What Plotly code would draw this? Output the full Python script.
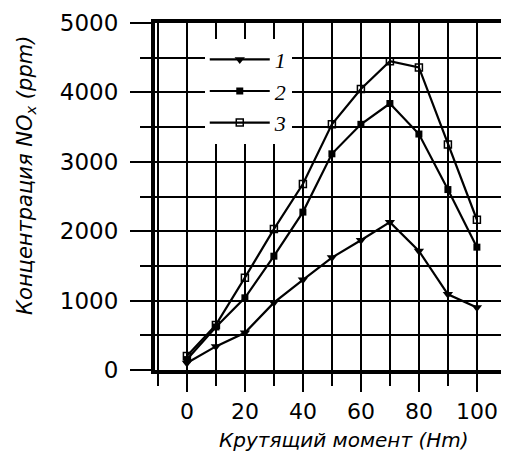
import plotly.graph_objects as go

torque = [0, 10, 20, 30, 40, 50, 60, 70, 80, 90, 100]
nox_1 = [100, 340, 535, 970, 1300, 1620, 1870, 2130, 1715, 1090, 900]
nox_2 = [150, 620, 1040, 1640, 2275, 3115, 3540, 3840, 3400, 2600, 1770]
nox_3 = [200, 650, 1330, 2030, 2680, 3540, 4050, 4450, 4360, 3250, 2165]
names = ["1", "2", "3"]
x_ticks = [0, 20, 40, 60, 80, 100]
y_ticks = [0, 1000, 2000, 3000, 4000, 5000]
x_title = "Крутящий момент (Нm)"
y_title = "Концентрация NO<sub>x</sub> (ppm)"

fig = go.Figure()
styles = [
    dict(symbol="triangle-down", size=9, color="black"),
    dict(symbol="square", size=7, color="black"),
    dict(symbol="square-open", size=7, color="black", line=dict(width=1.5, color="black")),
]
for name, vals, mk in zip(names, [nox_1, nox_2, nox_3], styles):
    fig.add_trace(go.Scatter(
        x=torque, y=vals, name=name, mode="lines+markers",
        line=dict(color="black", width=2.2), marker=mk,
        legendgroup=name,
    ))

font_fam = "DejaVu Sans, sans-serif"
fig.update_layout(
    # page body has an 8px margin, so the figure is sized to fill the rest
    width=501, height=465,
    margin=dict(l=147, r=6, t=15, b=103),
    paper_bgcolor="white", plot_bgcolor="white",
    font=dict(family=font_fam, color="black"),
    showlegend=True,
    legend=dict(
        x=0.143, y=0.955, xanchor="left", yanchor="top",
        bgcolor="white", borderwidth=0,
        font=dict(size=22, family="Liberation Serif, serif", style="italic"),
        itemwidth=60, tracegroupgap=3, traceorder="normal",
    ),
    xaxis=dict(
        range=[-11, 109], tickmode="array", tickvals=x_ticks,
        ticktext=[str(v) for v in x_ticks],
        showgrid=True, gridcolor="black", gridwidth=2,
        ticks="outside", ticklen=18, tickwidth=2, tickcolor="black",
        ticklabelstandoff=1, automargin=False,
        minor=dict(dtick=10, tick0=0, showgrid=True, gridcolor="black", gridwidth=2,
                   ticks="outside", ticklen=12, tickwidth=2, tickcolor="black"),
        showline=True, linecolor="black", linewidth=4, mirror=True,
        zeroline=False,
        tickfont=dict(size=22),
    ),
    yaxis=dict(
        range=[0, 5000], tickmode="array", tickvals=y_ticks,
        ticktext=[str(v) for v in y_ticks],
        showgrid=True, gridcolor="black", gridwidth=2,
        ticks="outside", ticklen=21, tickwidth=2, tickcolor="black",
        ticklabelstandoff=7, automargin=False,
        minor=dict(dtick=500, tick0=0, showgrid=True, gridcolor="black", gridwidth=2,
                   ticks="outside", ticklen=11, tickwidth=2, tickcolor="black"),
        showline=True, linecolor="black", linewidth=4, mirror=True,
        zeroline=False,
        tickfont=dict(size=23),
    ),
    annotations=[
        dict(text=x_title, xref="paper", yref="paper", x=0.543, y=-0.202,
             xanchor="center", yanchor="middle", showarrow=False,
             font=dict(size=20, style="italic")),
        dict(text=y_title, xref="paper", yref="paper", x=-0.371, y=0.562,
             xanchor="center", yanchor="middle", showarrow=False, textangle=-90,
             font=dict(size=21, style="italic")),
    ],
)
fig.write_html("out.html")
